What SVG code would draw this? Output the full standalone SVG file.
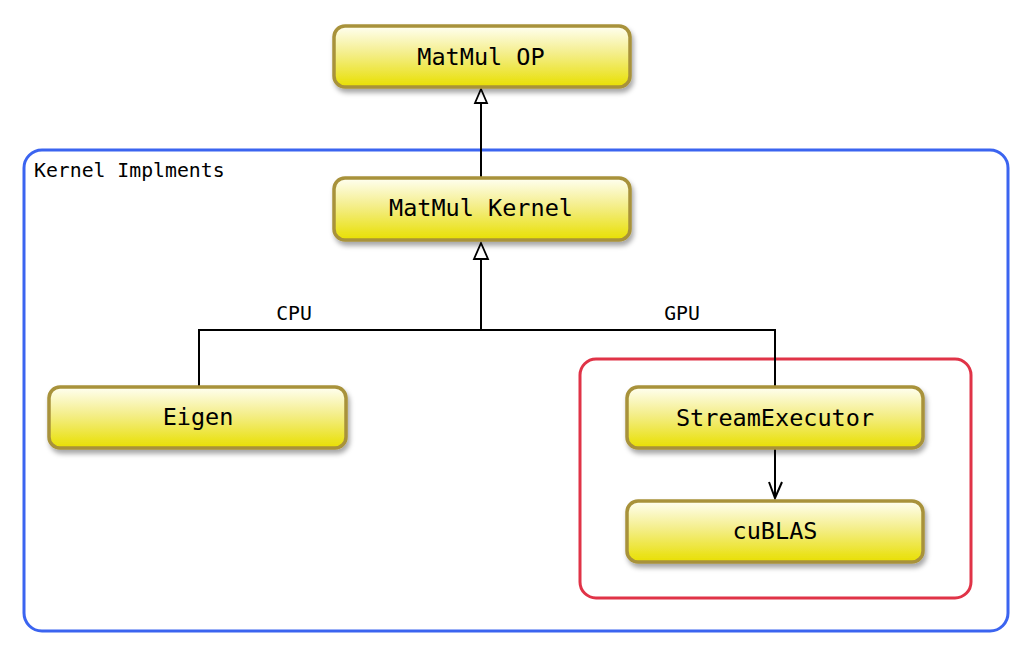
<svg xmlns="http://www.w3.org/2000/svg" width="1032" height="658" viewBox="0 0 1032 658">
<style>
.node rect{fill:url(#yg);stroke:#A8923A;stroke-width:3.5;filter:url(#sh)}
.node text{font-family:"DejaVu Sans Mono","Liberation Mono",monospace;font-size:23.5px;fill:#000;text-anchor:middle}
.lbl{font-family:"DejaVu Sans Mono","Liberation Mono",monospace;font-size:19.8px;fill:#000}
.edge{stroke:#000;stroke-width:2;fill:none}
.head{fill:#fff;stroke:#000;stroke-width:1.8}
</style>
<defs>
<linearGradient id="yg" x1="0" y1="0" x2="0" y2="1">
<stop offset="0" stop-color="#FFFFF2"/>
<stop offset="0.45" stop-color="#F4EE8A"/>
<stop offset="1" stop-color="#E8DF00"/>
</linearGradient>
<filter id="sh" x="-10%" y="-20%" width="120%" height="150%">
<feDropShadow dx="2" dy="4" stdDeviation="2.5" flood-color="#000" flood-opacity="0.35"/>
</filter>
</defs>
<g id="kernel-impl">
<rect x="24" y="150" width="984" height="481" rx="18" fill="none" stroke="#3B64F0" stroke-width="3"/>
<text class="lbl" x="34" y="177">Kernel Implments</text>
</g>
<g id="gpu-group">
<rect x="580" y="359" width="391" height="239" rx="16" fill="none" stroke="#E03347" stroke-width="3"/>
</g>
<g id="connectors">
<path class="edge" d="M481 177 L481 104"/>
<path class="head" d="M481 89 L487 103 L475 103 Z"/>
<path class="edge" d="M481 330 L481 259"/>
<path class="head" d="M481 243 L488 259 L474 259 Z"/>
<path class="edge" d="M199 386 L199 330 L775 330 L775 386"/>
<path class="edge" d="M775 449 L775 497"/>
<path class="edge" d="M769 482 L775 498 L782 482"/>
<text class="lbl" x="294" y="320" text-anchor="middle">CPU</text>
<text class="lbl" x="682" y="320" text-anchor="middle">GPU</text>
</g>
<g id="matmul-op" class="node">
<rect x="334" y="26" width="296" height="61" rx="11"/>
<text x="481" y="65">MatMul OP</text>
</g>
<g id="matmul-kernel" class="node">
<rect x="334" y="178" width="296" height="62" rx="11"/>
<text x="481" y="216">MatMul Kernel</text>
</g>
<g id="eigen" class="node">
<rect x="49" y="387" width="297" height="61" rx="11"/>
<text x="198" y="425">Eigen</text>
</g>
<g id="stream-executor" class="node">
<rect x="627" y="387" width="296" height="61" rx="11"/>
<text x="775" y="426">StreamExecutor</text>
</g>
<g id="cublas" class="node">
<rect x="627" y="501" width="296" height="61" rx="11"/>
<text x="775" y="539">cuBLAS</text>
</g>
</svg>
